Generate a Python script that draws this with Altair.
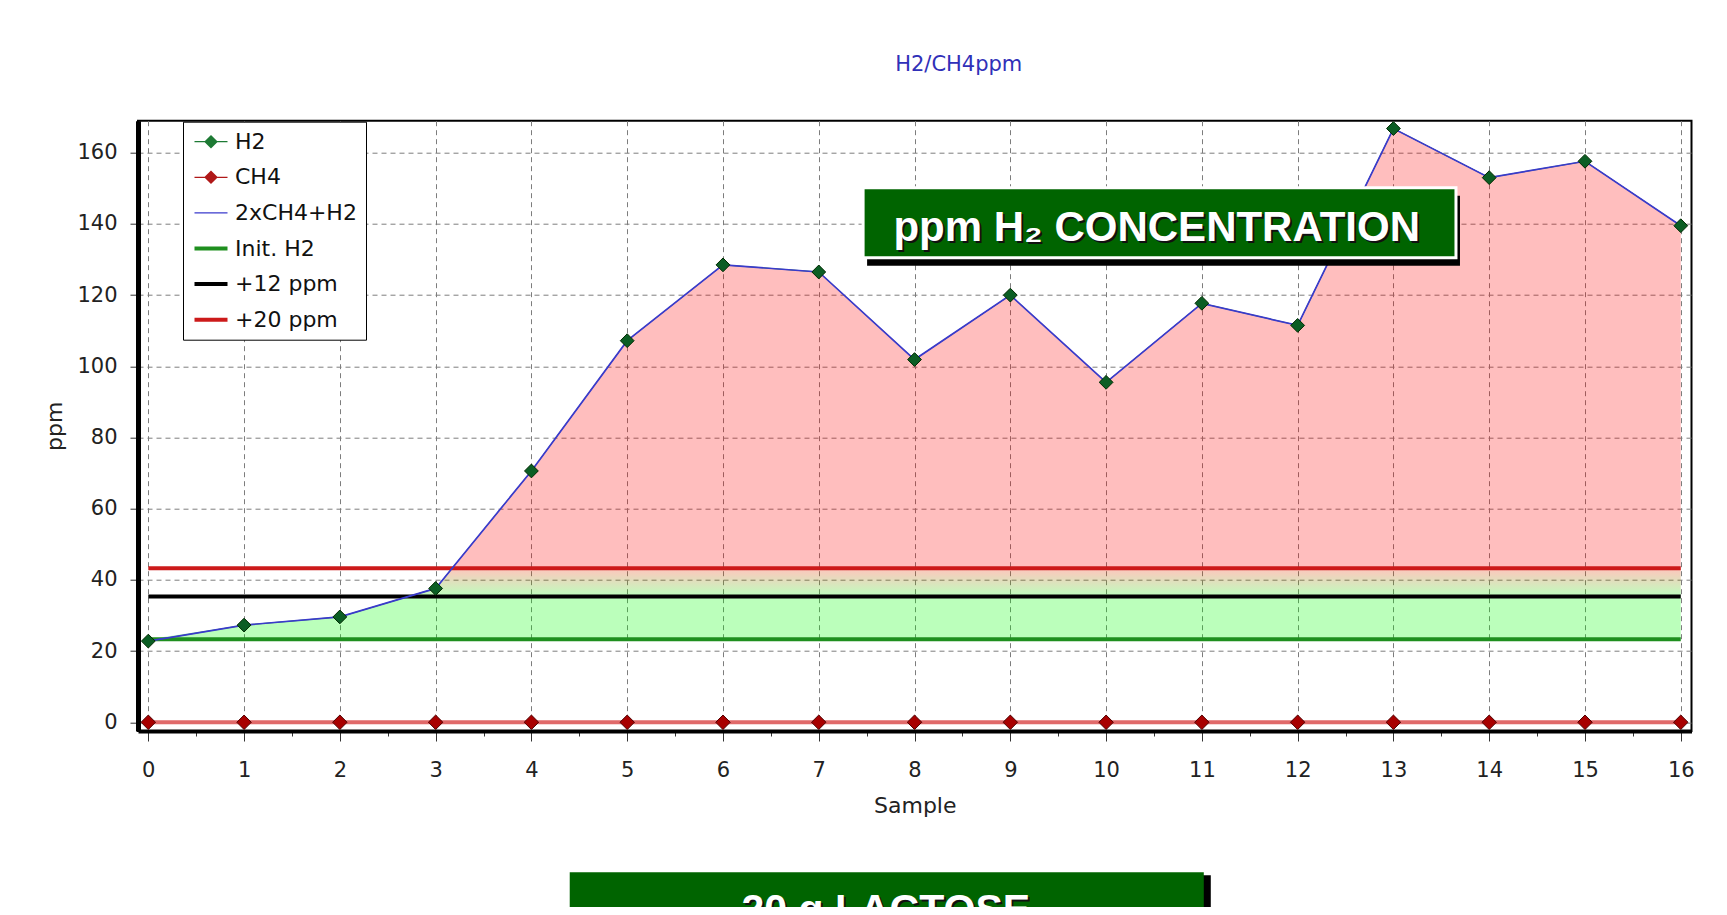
import altair as alt
import pandas as pd
import numpy as np

# ---------------- data ----------------
samples = list(range(17))
h2 = [22.8, 27.3, 29.6, 37.6, 70.6, 107.2, 128.5, 126.5, 101.9, 120.0, 95.5,
      117.7, 111.5, 166.8, 153.0, 157.6, 139.5]
ch4 = [0, 0, 0, 0, 0, 0, 0, 0, 0, 0, 0, 0, 0, 0, 0, 0, 0]
init_h2 = 23.3
thr_names = ["Init. H2", "+12 ppm", "+20 ppm"]
thr_offsets = [0, 12, 20]
series_names = ["H2", "CH4", "2xCH4+H2", "Init. H2", "+12 ppm", "+20 ppm"]
x_ticks = [i * 0.25 for i in range(65)]
y_ticks = [i * 5 for i in range(34)]

# ---------------- styles ----------------
FONT = "DejaVu Sans"
BOXFONT = "Liberation Sans"
C_H2_PT, C_H2_LINE = "#0b5e24", "#2f8f3f"
C_CH4_PT, C_CH4_LINE = "#a80000", "#e06a6a"
C_SUM = "#3a3acc"
thr_colors = {"Init. H2": "#1f8f1f", "+12 ppm": "#000000", "+20 ppm": "#cc1a1a"}
leg_fill = ["#1d7a34", "#b01818", C_SUM, "#1f8f1f", "#000000", "#cc1a1a"]
# legend glyphs (unit-square paths): thin bar + diamond, thin bar, thick bars
P_DIAMOND = "M-1.5,-0.06L1.5,-0.06L1.5,0.06L-1.5,0.06ZM0,-0.62L0.62,0L0,0.62L-0.62,0Z"
P_THIN = "M-1.5,-0.065L1.5,-0.065L1.5,0.065L-1.5,0.065Z"
P_THICK = "M-1.5,-0.18L1.5,-0.18L1.5,0.18L-1.5,0.18Z"
leg_shape = [P_DIAMOND, P_DIAMOND, P_THIN, P_THICK, P_THICK, P_THICK]

# ---------------- derived tables ----------------
total = [2 * c + h for c, h in zip(ch4, h2)]
thr_vals = [init_h2 + o for o in thr_offsets]
t_init, t12, t20 = thr_vals

xs, ys = [], []
for i in range(len(samples)):
    xs.append(samples[i]); ys.append(total[i])
    if i < len(samples) - 1:
        a, b = total[i], total[i + 1]
        cr = []
        for t in (t12, t20):
            if (a - t) * (b - t) < 0:
                f = (t - a) / (b - a)
                cr.append((samples[i] + f * (samples[i + 1] - samples[i]), t))
        for cx, cy in sorted(cr):
            xs.append(cx); ys.append(cy)
ys = np.array(ys)
fill_df = pd.DataFrame({
    "x": xs,
    "init": t_init, "t12": t12, "t20": t20,
    "green_top": np.maximum(t_init, np.minimum(ys, t12)),
    "band_top": np.clip(ys, t12, t20),
    "pink_top": np.maximum(ys, t20),
})
df = pd.DataFrame({"sample": samples, "H2": h2, "CH4": ch4, "total": total})
thr_df = pd.DataFrame({"name": thr_names, "value": thr_vals,
                       "x0": samples[0], "x1": samples[-1]})
leg_df = pd.DataFrame({"series": series_names})

# ---------------- scales / axes ----------------
xs_scale = alt.Scale(domain=[-0.1075, 16.112], nice=False, zero=False)
ys_scale = alt.Scale(domain=[-2.45, 169], nice=False, zero=False)
XT, YT = "Sample", "ppm"
GRID = dict(grid=True, gridDash=[5, 4], gridColor="#7d7d7d", gridWidth=1)

x_axis = alt.Axis(
    values=x_ticks,
    labelExpr="datum.value % 1 === 0 ? format(datum.value, 'd') : ''",
    tickSize={"condition": {"test": "datum.value % 1 !== 0", "value": 5}, "value": 10},
    gridOpacity={"condition": {"test": "datum.value % 1 !== 0", "value": 0}, "value": 1},
    domainColor="black", domainWidth=4, tickColor="#333",
    labelFont=FONT, labelFontSize=21, labelColor="#222", labelPadding=18,
    labelOverlap=False, labelFlush=False,
    title=XT, titleFont=FONT, titleFontSize=22, titleFontWeight="normal",
    titleColor="#222", titleY=74, titleBaseline="middle", **GRID,
)
y_axis = alt.Axis(
    values=y_ticks,
    labelExpr="datum.value % 20 === 0 ? format(datum.value, 'd') : ''",
    tickSize={"condition": {"test": "datum.value % 20 !== 0", "value": 4}, "value": 8},
    gridOpacity={"condition": {"test": "datum.value % 20 !== 0", "value": 0}, "value": 1},
    domainColor="black", domainWidth=5, tickColor="#333",
    labelFont=FONT, labelFontSize=21, labelColor="#222", labelPadding=13,
    labelOverlap=False, labelFlush=False,
    title=YT, titleFont=FONT, titleFontSize=22, titleFontWeight="normal",
    titleColor="#222", titleX=-84, titleBaseline="middle", **GRID,
)


def X(f):
    return alt.X(f, title=XT)


def Y(f):
    return alt.Y(f, title=YT)


base_fill = alt.Chart(fill_df)
green = base_fill.mark_area(color="#00ff00", opacity=0.265).encode(
    x=alt.X("x:Q", scale=xs_scale, axis=x_axis),
    y=alt.Y("init:Q", scale=ys_scale, axis=y_axis),
    y2="green_top:Q",
)
band = base_fill.mark_area(
    opacity=0.26,
    color={"gradient": "linear", "x1": 0, "y1": 1, "x2": 0, "y2": 0,
           "stops": [{"offset": 0, "color": "#00ff00"},
                     {"offset": 1, "color": "#ff2000"}]},
).encode(x=X("x:Q"), y=Y("t12:Q"), y2="band_top:Q")
pink = base_fill.mark_area(color="#ff0000", opacity=0.255).encode(
    x=X("x:Q"), y=Y("t20:Q"), y2="pink_top:Q"
)

rules = []
for nm in thr_names:
    rules.append(
        alt.Chart(thr_df).transform_filter(alt.datum.name == nm)
        .mark_rule(color=thr_colors[nm], strokeWidth=4)
        .encode(x=X("x0:Q"), x2="x1:Q", y=Y("value:Q"))
    )

base = alt.Chart(df)
ch4_line = base.mark_line(color=C_CH4_LINE, strokeWidth=4).encode(
    x=X("sample:Q"), y=Y("CH4:Q"))
h2_line = base.mark_line(color=C_H2_LINE, strokeWidth=1).encode(
    x=X("sample:Q"), y=Y("H2:Q"))
sum_line = base.mark_line(color=C_SUM, strokeWidth=1.7).encode(
    x=X("sample:Q"), y=Y("total:Q"))
ch4_pts = base.mark_point(shape="diamond", filled=True, size=210, opacity=1,
                          fill=C_CH4_PT, stroke="#500000", strokeWidth=1).encode(
    x=X("sample:Q"), y=Y("CH4:Q"))
h2_pts = base.mark_point(shape="diamond", filled=True, size=190, opacity=1,
                         fill=C_H2_PT, stroke="#002a00", strokeWidth=1).encode(
    x=X("sample:Q"), y=Y("H2:Q"))


# ---------------- annotation boxes ----------------
def XD(v):
    return alt.XDatum(v, title=XT)


def YD(v):
    return alt.YDatum(v, title=YT)


ann = alt.Chart(pd.DataFrame({"a": [0]}))
BOX1 = dict(x=7.463, x2=13.653, y=150.17, y2=130.5)
box1_shadow = ann.mark_rect(color="black", xOffset=4, x2Offset=4, yOffset=8, y2Offset=8).encode(
    x=XD(BOX1["x"]), x2=alt.datum(BOX1["x2"]), y=YD(BOX1["y"]), y2=alt.datum(BOX1["y2"]))
box1 = ann.mark_rect(color="#006400", stroke="white", strokeWidth=3).encode(
    x=XD(BOX1["x"]), x2=alt.datum(BOX1["x2"]), y=YD(BOX1["y"]), y2=alt.datum(BOX1["y2"]))
TXT1 = "ppm H\u2082 CONCENTRATION"
txt1_sh = ann.mark_text(text=TXT1, font=BOXFONT, fontSize=42, fontWeight="bold", color="#111",
                        align="left", baseline="alphabetic", dx=2, dy=2).encode(
    x=XD(7.78), y=YD(135.15))
txt1 = ann.mark_text(text=TXT1, font=BOXFONT, fontSize=42, fontWeight="bold", color="white",
                     align="left", baseline="alphabetic").encode(
    x=XD(7.78), y=YD(135.15))

BOX2 = dict(x=4.40, x2=11.02, y=-42.1, y2=-75)
box2_shadow = ann.mark_rect(color="black", xOffset=7, x2Offset=7, yOffset=3, y2Offset=3).encode(
    x=XD(BOX2["x"]), x2=alt.datum(BOX2["x2"]), y=YD(BOX2["y"]), y2=alt.datum(BOX2["y2"]))
box2 = ann.mark_rect(color="#006400").encode(
    x=XD(BOX2["x"]), x2=alt.datum(BOX2["x2"]), y=YD(BOX2["y"]), y2=alt.datum(BOX2["y2"]))
TXT2 = "20 g LACTOSE"
txt2_sh = ann.mark_text(text=TXT2, font=BOXFONT, fontSize=41, fontWeight="bold", color="#111",
                        align="center", baseline="alphabetic", dx=2, dy=2).encode(
    x=XD(7.70), y=YD(-56.4))
txt2 = ann.mark_text(text=TXT2, font=BOXFONT, fontSize=41, fontWeight="bold", color="white",
                     align="center", baseline="alphabetic").encode(
    x=XD(7.70), y=YD(-56.4))

# ---------------- legend (scale-driven, no marks drawn) ----------------
leg = alt.Legend(title=None, orient="none", legendX=45, legendY=1,
                 fillColor="white", strokeColor="black", padding=9,
                 symbolOffset=8, labelOffset=13, rowPadding=13.6,
                 labelFont=FONT, labelFontSize=22, labelColor="#111",
                 symbolSize=484, symbolStrokeWidth=0, labelLimit=400, zindex=2)
legend_layer = alt.Chart(leg_df).transform_filter("false").mark_point(
    filled=True, opacity=1, strokeWidth=0).encode(
    fill=alt.Fill("series:N", scale=alt.Scale(domain=series_names, range=leg_fill), legend=leg),
    shape=alt.Shape("series:N", scale=alt.Scale(domain=series_names, range=leg_shape), legend=leg),
)

chart = alt.layer(
    green, band, pink, *rules, ch4_line, h2_line, sum_line, ch4_pts, h2_pts,
    box1_shadow, box1, txt1_sh, txt1, box2_shadow, box2, txt2_sh, txt2, legend_layer,
).properties(
    width=1553.5, height=610.3,
    background="white",
    autosize=alt.AutoSizeParams(type="none"),
    padding={"left": 130, "top": 112.7, "right": 27.5, "bottom": 176},
    title=alt.TitleParams("H2/CH4ppm", color="#3030b8", font=FONT, fontSize=21,
                          fontWeight="normal", anchor="middle", dx=44, offset=28,
                          frame="group", baseline="alphabetic"),
).configure_view(stroke="black", strokeWidth=2)

chart.save("out.html", embed_options={"renderer": "svg", "actions": False})
